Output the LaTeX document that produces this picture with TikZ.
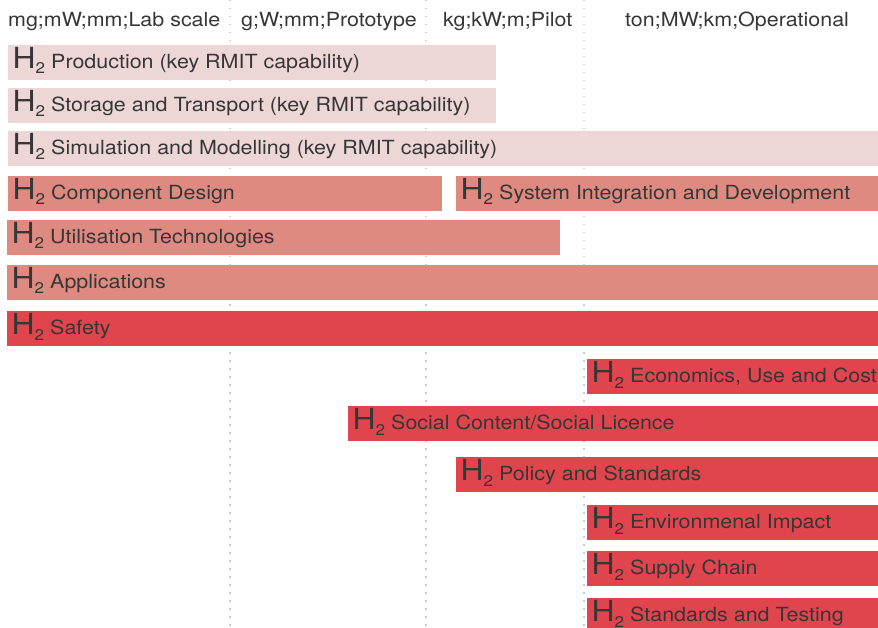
\documentclass[tikz,border=0pt]{standalone}
\usepackage{fontspec}
\setmainfont{TeX Gyre Heros}[FakeStretch=1.1]
\usetikzlibrary{positioning}
\definecolor{colLight}{HTML}{EDD7D6}
\definecolor{colMid}{HTML}{DE8A80}
\definecolor{colStrong}{HTML}{E0454E}
\definecolor{colText}{HTML}{363636}
\newcommand{\htwo}{{\fontsize{29}{29}\selectfont H}\raisebox{-5.5pt}{\fontsize{15.5}{15.5}\selectfont 2}\hspace{6pt}}

\begin{document}
\begin{tikzpicture}[x=1pt, y=-1pt, every node/.style={text=colText, inner sep=0pt},
  scalelabel/.style={anchor=base west, font=\fontsize{19.5}{21}\selectfont},
  barlabel/.style={anchor=base west, font=\fontsize{19.5}{21}\selectfont},
  gridline/.style={gray!40, line width=1.5pt, dash pattern=on 1.5pt off 6.5pt}]
\useasboundingbox (0,0) rectangle (878,628);
\clip (0,0) rectangle (878,628);
% scale columns
\foreach \x/\t [count=\i] in {8/{mg;mW;mm;Lab scale}, 241/{g;W;mm;Prototype}, 443/{kg;kW;m;Pilot}, 625/{ton;MW;km;Operational}}{
  \node[scalelabel] (col\i) at (\x,27) {\t};
}
\foreach \x in {230, 426, 584}{
  \draw[gridline] (\x,0) -- (\x,628);
}
% capability bars
\foreach \x/\y/\w/\c/\t [count=\i] in {
  8/45/488/colLight/{Production (key RMIT capability)},
  8/88/488/colLight/{Storage and Transport (key RMIT capability)},
  8/131/870/colLight/{Simulation and Modelling (key RMIT capability)},
  8/176/434/colMid/{Component Design},
  456/176/422/colMid/{System Integration and Development},
  7/220/553/colMid/{Utilisation Technologies},
  7/265/871/colMid/{Applications},
  7/311/871/colStrong/{Safety},
  587/359/291/colStrong/{Economics, Use and Cost},
  348/406/530/colStrong/{Social Content/Social Licence},
  456/457/422/colStrong/{Policy and Standards},
  587/505/291/colStrong/{Environmenal Impact},
  587/551/291/colStrong/{Supply Chain},
  587/598/291/colStrong/{Standards and Testing}}{
  \fill[\c] (\x,\y) rectangle ++(\w,35);
  \node[barlabel] (bar\i) at (\x+4.5,\y+23.5) {\htwo\t};
}
\end{tikzpicture}
\end{document}
